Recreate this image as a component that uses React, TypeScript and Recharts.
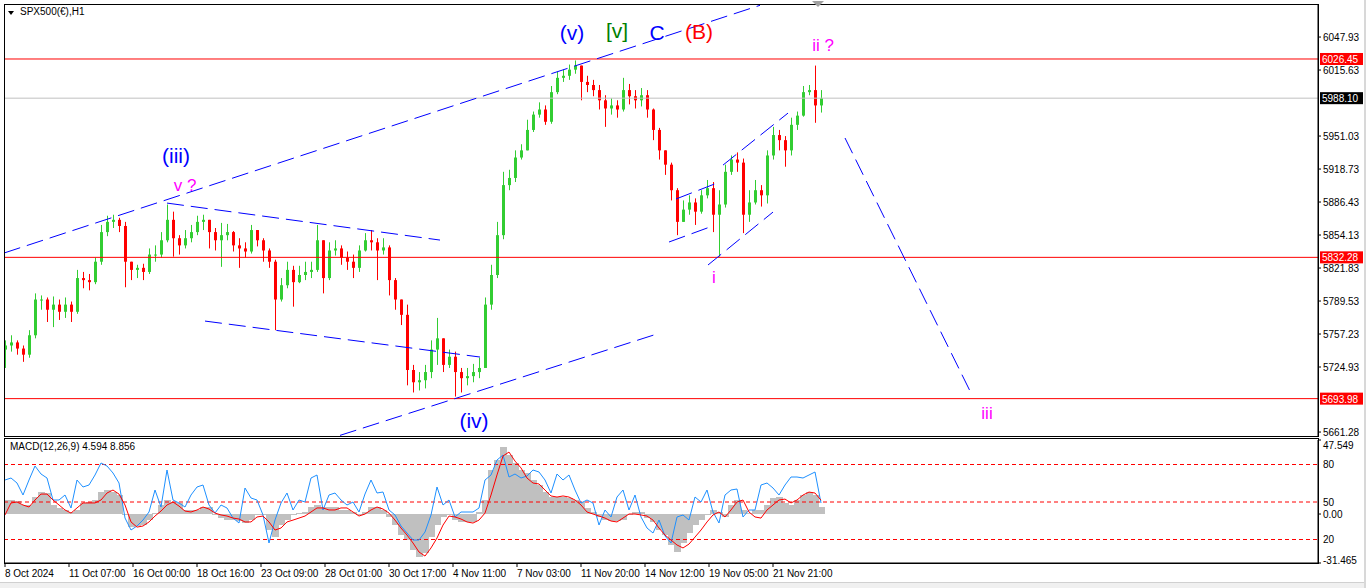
import React from 'react';
import {
  ComposedChart,
  Bar,
  Line,
  XAxis,
  YAxis,
  ReferenceLine,
  ReferenceDot,
} from 'recharts';

// SPX500 H1, one candle per 6 hourly bars
const firstOpen = 5742;
const closes = [
  5746, 5749, 5743, 5737, 5756, 5791, 5791, 5781, 5786, 5779,
  5786, 5779, 5812, 5810, 5808, 5828, 5857, 5867, 5869, 5863,
  5828, 5820, 5822, 5818, 5835, 5835, 5849, 5869, 5851, 5844,
  5851, 5857, 5867, 5869, 5857, 5849, 5854, 5857, 5844, 5841,
  5838, 5859, 5849, 5839, 5828, 5791, 5805, 5820, 5808, 5815,
  5818, 5820, 5849, 5812, 5839, 5841, 5832, 5828, 5822, 5839,
  5849, 5847, 5839, 5842, 5810, 5791, 5776, 5722, 5710, 5712,
  5720, 5742, 5753, 5727, 5735, 5720, 5714, 5716, 5720, 5724,
  5786, 5815, 5854, 5903, 5910, 5930, 5937, 5957, 5972, 5977,
  5965, 5994, 6008, 6010, 6016, 6020, 6004, 6001, 5996, 5986,
  5978, 5981, 5977, 5996, 5990, 5986, 5991, 5977, 5957, 5937,
  5923, 5898, 5867, 5879, 5886, 5877, 5893, 5900, 5874, 5884,
  5916, 5928, 5925, 5874, 5886, 5898, 5893, 5932, 5952, 5947,
  5937, 5962, 5971, 5994, 5996, 5981, 5988,
];
const highs = [
  5751, 5756, 5751, 5746, 5761, 5797, 5795, 5793, 5794, 5791,
  5793, 5789, 5820, 5818, 5816, 5832, 5864, 5873, 5874, 5871,
  5867, 5828, 5825, 5826, 5841, 5844, 5857, 5884, 5877, 5854,
  5859, 5864, 5873, 5874, 5869, 5861, 5866, 5865, 5858, 5851,
  5847, 5864, 5859, 5851, 5841, 5830, 5812, 5828, 5824, 5824,
  5828, 5828, 5864, 5849, 5847, 5849, 5844, 5838, 5835, 5844,
  5856, 5859, 5851, 5851, 5844, 5812, 5791, 5786, 5727, 5720,
  5727, 5751, 5773, 5753, 5742, 5740, 5724, 5724, 5728, 5734,
  5793, 5825, 5867, 5916, 5918, 5937, 5943, 5967, 5975, 5984,
  5981, 6000, 6014, 6016, 6021, 6025, 6020, 6010, 6006, 6001,
  5991, 5988, 5986, 6008, 6002, 5996, 5998, 5996, 5978, 5959,
  5937, 5925, 5900, 5888, 5893, 5890, 5898, 5908, 5906, 5898,
  5923, 5932, 5935, 5929, 5898, 5908, 5903, 5937, 5960, 5957,
  5951, 5969, 5975, 6000, 6001, 6020, 5996,
];
const lows = [
  5724, 5740, 5737, 5730, 5734, 5753, 5781, 5769, 5764, 5771,
  5773, 5769, 5777, 5802, 5800, 5806, 5825, 5853, 5861, 5857,
  5803, 5810, 5812, 5810, 5816, 5828, 5832, 5847, 5833, 5835,
  5841, 5847, 5854, 5859, 5841, 5839, 5823, 5849, 5838, 5822,
  5832, 5836, 5843, 5828, 5822, 5761, 5789, 5802, 5784, 5807,
  5810, 5812, 5818, 5797, 5810, 5834, 5825, 5820, 5812, 5818,
  5838, 5839, 5810, 5835, 5795, 5781, 5766, 5707, 5700, 5702,
  5704, 5714, 5727, 5720, 5724, 5696, 5700, 5707, 5710, 5714,
  5724, 5781, 5812, 5850, 5898, 5906, 5928, 5937, 5955, 5969,
  5962, 5963, 5992, 6004, 6006, 6012, 5986, 5994, 5990, 5977,
  5960, 5972, 5969, 5975, 5982, 5978, 5980, 5969, 5947, 5928,
  5913, 5888, 5854, 5867, 5874, 5864, 5875, 5890, 5857, 5833,
  5881, 5913, 5916, 5856, 5867, 5884, 5882, 5885, 5928, 5937,
  5921, 5932, 5957, 5970, 5991, 5964, 5974,
];

// MACD(12,26,9) panel
const macdMain = [
  9.0, 9.0, 8.4, 5.8, 5.8, 10.9, 14.1, 13.5, 5.8, 3.9,
  2.6, 1.3, 2.6, 7.1, 7.7, 9.0, 14.1, 15.4, 14.1, 12.2,
  -0.6, -8.4, -7.7, -7.1, -3.9, 0.6, 5.8, 9.0, 7.7, 7.1,
  2.6, 2.6, 2.6, 4.5, 4.5, -0.6, -2.6, -3.9, -3.9, -4.5,
  -5.8, -3.9, -0.6, -0.6, -10.3, -14.8, -7.1, -3.9, -0.6, 0.6,
  1.3, 4.5, 5.8, 4.5, 4.5, 4.5, 2.6, 2.6, 1.3, -0.6,
  1.3, 4.5, 4.5, 2.6, -1.9, -7.1, -13.5, -16.7, -23.1, -27.6,
  -25.1, -14.8, -7.1, -1.9, -0.6, -3.9, -5.1, -5.1, -5.1, 1.3,
  9.0, 28.3, 34.7, 43.0, 37.9, 32.8, 28.3, 26.3, 21.8, 18.6,
  14.1, 10.9, 10.9, 10.9, 10.3, 9.0, 7.7, 3.9, 1.3, -1.9,
  -3.9, -4.5, -4.5, -3.9, -0.6, 1.3, 1.3, -2.6, -5.1, -10.3,
  -13.5, -19.9, -24.4, -18.6, -12.2, -7.1, -3.9, -0.6, 2.6, 1.3,
  -1.9, 5.8, 9.0, 2.6, 0.6, 2.6, 2.6, 5.8, 10.3, 10.9,
  7.1, 5.8, 9.0, 12.2, 14.1, 12.2, 4.594,
];
const macdSignal = [
  -0.6, 7.1, 7.7, 5.8, 4.5, 9.0, 12.8, 12.8, 9.0, 5.8,
  2.6, 0.6, 3.9, 7.1, 7.1, 7.1, 9.0, 13.5, 15.4, 12.8,
  5.8, -5.1, -8.4, -7.7, -5.1, -1.3, 1.9, 5.8, 7.7, 5.1,
  1.9, 1.3, 2.6, 4.5, 3.2, 0.6, -0.6, -1.3, -2.6, -3.2,
  -5.1, -5.1, -1.9, -1.3, -5.1, -10.3, -9.0, -5.1, -3.9, -2.6,
  -1.3, 1.3, 3.9, 3.9, 2.6, 2.6, 3.9, 3.9, 1.3, -1.3,
  0, 2.6, 4.5, 3.2, 0.6, -3.9, -9.0, -13.5, -18.6, -24.4,
  -27.0, -21.8, -15.4, -7.1, -1.3, -1.9, -3.2, -5.1, -5.8, -3.9,
  0.6, 12.2, 25.1, 37.3, 39.8, 34.0, 29.6, 23.1, 19.9, 19.3,
  15.4, 11.6, 10.9, 11.6, 10.9, 9.0, 5.8, 1.3, 0, -1.3,
  -2.6, -4.5, -5.1, -2.6, 0, 0, -0.6, -1.3, -3.9, -9.0,
  -13.5, -16.7, -19.9, -21.8, -19.3, -14.8, -10.3, -5.1, -0.6, 1.3,
  -1.9, 2.6, 7.7, 9.0, 1.3, -1.9, -2.6, 2.6, 5.8, 9.0,
  9.6, 7.1, 9.0, 12.2, 14.1, 13.5, 8.856,
];
// blue oscillator drawn on a 0..100 scale (levels 20/50/80)
const oscillator = [
  67.6, 69.2, 65.2, 55.6, 67.6, 78.8, 72.4, 69.2, 51.6, 51.6,
  55.6, 45.2, 67.6, 62.0, 63.6, 71.6, 81.2, 78.8, 73.2, 65.2,
  37.2, 27.6, 30.8, 35.6, 42.0, 59.6, 46.0, 75.6, 51.6, 49.2,
  46.0, 55.6, 62.0, 63.6, 47.6, 41.2, 47.6, 45.2, 37.2, 33.2,
  61.2, 53.2, 51.6, 39.6, 17.2, 35.6, 49.2, 57.2, 43.6, 51.6,
  50.0, 69.2, 71.6, 43.6, 55.6, 57.2, 51.6, 47.6, 50.0, 42.0,
  56.4, 67.6, 57.2, 58.0, 43.6, 39.6, 30.8, 25.2, 19.6, 19.6,
  26.0, 39.6, 62.0, 47.6, 51.6, 38.0, 42.0, 42.0, 42.0, 45.2,
  67.6, 71.6, 83.6, 87.6, 70.0, 72.4, 69.2, 70.8, 75.6, 74.0,
  67.6, 57.2, 72.4, 67.6, 71.6, 59.6, 49.2, 51.6, 49.2, 31.6,
  43.6, 38.0, 54.0, 59.6, 43.6, 55.6, 38.0, 29.2, 25.2, 35.6,
  22.8, 17.2, 38.0, 39.6, 35.6, 54.0, 50.0, 59.6, 42.0, 33.2,
  55.6, 59.6, 60.4, 38.0, 43.6, 43.6, 63.6, 65.2, 61.2, 55.6,
  63.6, 70.0, 70.0, 69.2, 71.6, 74.0, 49.2,
];

const timeLabels = [
  '8 Oct 2024', '11 Oct 07:00', '16 Oct 00:00', '18 Oct 16:00', '23 Oct 09:00',
  '28 Oct 01:00', '30 Oct 17:00', '4 Nov 11:00', '7 Nov 03:00', '11 Nov 20:00',
  '14 Nov 12:00', '19 Nov 05:00', '21 Nov 21:00',
];
const priceTicks = [
  6047.93, 6015.63, 5951.03, 5918.73, 5886.43, 5854.13,
  5821.83, 5789.53, 5757.23, 5724.93, 5661.28,
];
const macdTicks = [47.549, 0, -31.465];
const oscLevels = [80, 50, 20];
const redLevels = [6026.45, 5832.28, 5693.98];
const bidPrice = 5988.1;

// trend lines: [bar1, price1, bar2, price2]
const trendLines = [
  [0, 5836.5, 756, 6079],
  [336, 5658, 656, 5758.2],
  [163, 5885.4, 436, 5849.2],
  [201, 5769.9, 476, 5734.7],
  [665, 5847.3, 706, 5862.0],
  [672, 5889.4, 713, 5905.0],
  [704, 5824.8, 769, 5876.6],
  [719, 5922.6, 784, 5973.5],
  [841, 5949.1, 968, 5697.5],
];

// wave labels: [text, bar, price, color, size]
const waveLabels: [string, number, number, string, number][] = [
  ['(v)', 568, 6052.8, '#0000ff', 21],
  ['[v]', 613, 6054.8, '#008000', 21],
  ['C', 653, 6052.8, '#0000ff', 21],
  ['(B)', 695, 6053.8, '#ff0000', 21],
  ['ii ?', 819, 6040.1, '#ff00ff', 17],
  ['(iii)', 172, 5932.4, '#0000ff', 21],
  ['v ?', 181, 5903.1, '#ff00ff', 17],
  ['(iv)', 470, 5672.1, '#0000ff', 21],
  ['i', 710, 5813.0, '#ff00ff', 17],
  ['iii', 983, 5679.9, '#ff00ff', 17],
];

const STEP = 6;
const FONT = 'Arial, "Liberation Sans", sans-serif';

const candles = closes.map((close, i) => {
  const open = i === 0 ? firstOpen : closes[i - 1];
  return { bar: 1 + i * STEP, open, close, high: highs[i], low: lows[i], range: [lows[i], highs[i]] };
});

const macdRows = macdMain.map((m, i) => ({
  bar: 1 + i * STEP,
  hist: m,
  signal: macdSignal[i],
  osc: oscillator[i],
}));

const tickBars = timeLabels.map((_, k) => 1 + k * 64);

const Candle = (props: any) => {
  const { x, y, width, height, payload } = props;
  if (x == null || !payload) return null;
  const { open, close, high, low } = payload;
  const top = Math.min(y, y + height);
  const h = Math.abs(height);
  const span = high - low || 1;
  const py = (p: number) => top + ((high - p) / span) * h;
  const color = close >= open ? '#32cd32' : '#ff0000';
  const cx = Math.round(x + width / 2) + 0.5;
  const bTop = py(Math.max(open, close));
  const bBot = py(Math.min(open, close));
  return (
    <g>
      <line x1={cx} x2={cx} y1={top} y2={top + h} stroke={color} strokeWidth={1} />
      <rect x={cx - 1.5} y={bTop} width={3} height={Math.max(1, bBot - bTop)} fill={color} />
    </g>
  );
};

// histogram column a bit wider than the step so the gray reads as a solid area
const HistColumn = (props: any) => {
  const { x, y, width, height } = props;
  if (x == null || height == null) return null;
  const cx = Math.round(x + width / 2);
  const top = Math.min(y, y + height);
  return (
    <rect x={cx - 3} y={top} width={STEP + 1} height={Math.max(1, Math.abs(height))}
      fill="#c0c0c0" stroke="none" shapeRendering="crispEdges" />
  );
};

const PriceTag = (props: any) => {
  const { viewBox, bg, text } = props;
  if (!viewBox) return null;
  const right = viewBox.x + viewBox.width;
  const y = viewBox.y;
  return (
    <g>
      <rect x={right + 2} y={y - 6} width={43} height={12} fill={bg} />
      <text x={right + 4} y={y + 4} fill="#fff" fontSize={10} fontFamily={FONT}>
        {text}
      </text>
    </g>
  );
};

const WaveText = (props: any) => {
  const { viewBox, text, color, size } = props;
  if (!viewBox) return null;
  const cx = viewBox.x + (viewBox.width || 0) / 2;
  const cy = viewBox.y + (viewBox.height || 0) / 2;
  return (
    <text x={cx} y={cy} textAnchor="middle" dominantBaseline="central" fill={color} fontSize={size} fontFamily={FONT}>
      {text}
    </text>
  );
};

const TimeTick = (props: any) => {
  const { x, y, payload } = props;
  const k = Math.round((payload.value - 1) / 64);
  return (
    <text x={x} y={y} dy={8} textAnchor="start" fontSize={10} fontFamily={FONT} fill="#000">
      {timeLabels[k]}
    </text>
  );
};

// MT4 keeps the panel's top and bottom values inside the panel
const MacdTick = (props: any) => {
  const { x, y, payload } = props;
  const v = payload.value;
  const dy = v > 40 ? 5 : v < -30 ? -3 : 0;
  const txt = v === 0 ? '0.00' : String(v);
  return (
    <text x={x} y={y + dy} dy={4} textAnchor="start" fontSize={10} fontFamily={FONT} fill="#000">
      {txt}
    </text>
  );
};

export default function App() {
  return (
    <div style={{ position: 'absolute', left: 0, top: 0, width: 1366, height: 588, background: '#fff', fontFamily: FONT, overflow: 'hidden' }}>
      <div style={{ position: 'absolute', left: 0, top: 0 }}>
        <ComposedChart width={1366} height={438} data={candles} margin={{ top: 5, right: 0, bottom: 2, left: 4 }}>
          <XAxis type="number" dataKey="bar" domain={[0, 1314]} allowDataOverflow hide />
          <YAxis
            orientation="right"
            domain={[5657.4, 6079.3]}
            allowDataOverflow
            ticks={priceTicks}
            interval={0}
            width={48}
            tickSize={3}
            axisLine={{ stroke: '#000' }}
            tickLine={{ stroke: '#000' }}
            tick={{ fontSize: 10, fill: '#000', fontFamily: FONT }}
            tickFormatter={(v: number) => v.toFixed(2)}
          />
          {redLevels.map((p) => (
            <ReferenceLine key={p} y={p} stroke="#ff0000" strokeWidth={1} ifOverflow="visible"
              label={<PriceTag bg="#ff0000" text={p.toFixed(2)} />} />
          ))}
          <ReferenceLine y={bidPrice} stroke="#c0c0c0" strokeWidth={1} ifOverflow="visible"
            label={<PriceTag bg="#000000" text={bidPrice.toFixed(2)} />} />
          <Bar dataKey="range" barSize={4} shape={<Candle />} isAnimationActive={false} />
          {trendLines.map((s, i) => (
            <ReferenceLine key={'t' + i} segment={[{ x: s[0], y: s[1] }, { x: s[2], y: s[3] }]}
              stroke="#0000ff" strokeWidth={1} strokeDasharray="17 7" ifOverflow="visible" />
          ))}
          {waveLabels.map(([t, b, p, c, s]) => (
            <ReferenceDot key={t + b} x={b} y={p} r={0} fill="none" stroke="none" ifOverflow="visible"
              label={<WaveText text={t} color={c} size={s} />} />
          ))}
        </ComposedChart>
      </div>

      <div style={{ position: 'absolute', left: 0, top: 438 }}>
        <ComposedChart width={1366} height={144} data={macdRows} margin={{ top: 2, right: 0, bottom: 0, left: 4 }} barGap={0} barCategoryGap={0}>
          <XAxis
            type="number"
            dataKey="bar"
            domain={[0, 1314]}
            allowDataOverflow
            ticks={tickBars}
            interval={0}
            height={19}
            tickSize={4}
            axisLine={{ stroke: '#000' }}
            tickLine={{ stroke: '#000' }}
            tick={<TimeTick />}
          />
          <YAxis
            yAxisId="m"
            orientation="right"
            domain={[-31.465, 47.549]}
            allowDataOverflow
            ticks={macdTicks}
            interval={0}
            width={48}
            tickSize={3}
            axisLine={{ stroke: '#000' }}
            tickLine={{ stroke: '#000' }}
            tick={<MacdTick />}
          />
          <YAxis yAxisId="b" hide domain={[1.2, 99.6]} allowDataOverflow />
          <Bar yAxisId="m" dataKey="hist" fill="#c0c0c0" barSize={6} shape={<HistColumn />} isAnimationActive={false} />
          {oscLevels.map((v) => (
            <ReferenceLine key={v} yAxisId="b" y={v} stroke="#ff0000" strokeDasharray="4 3" ifOverflow="visible"
              label={{ value: String(v), position: 'right', fill: '#000', fontSize: 10, fontFamily: FONT }} />
          ))}
          <Line yAxisId="b" type="linear" dataKey="osc" stroke="#1e90ff" strokeWidth={1} dot={false} isAnimationActive={false} />
          <Line yAxisId="m" type="linear" dataKey="signal" stroke="#ff0000" strokeWidth={1} dot={false} isAnimationActive={false} />
        </ComposedChart>
      </div>

      {/* panel frames */}
      <div style={{ position: 'absolute', left: 4, top: 4, width: 1315, height: 433, border: '1px solid #000', boxSizing: 'border-box', pointerEvents: 'none' }} />
      <div style={{ position: 'absolute', left: 4, top: 438, width: 1315, height: 126, border: '1px solid #000', boxSizing: 'border-box', pointerEvents: 'none' }} />

      {/* symbol caption */}
      <div style={{ position: 'absolute', left: 8, top: 11, width: 0, height: 0, borderLeft: '3px solid transparent', borderRight: '3px solid transparent', borderTop: '4px solid #000' }} />
      <div style={{ position: 'absolute', left: 20, top: 6, fontSize: 10, color: '#000', whiteSpace: 'nowrap' }}>SPX500(€),H1</div>
      <div style={{ position: 'absolute', left: 10, top: 441, fontSize: 10, color: '#000', whiteSpace: 'nowrap' }}>MACD(12,26,9) 4.594 8.856</div>

      {/* chart shift marker */}
      <div style={{ position: 'absolute', left: 812, top: 1, width: 0, height: 0, borderLeft: '6px solid transparent', borderRight: '6px solid transparent', borderTop: '6px solid #a0a0a0' }} />

      {/* window edges */}
      <div style={{ position: 'absolute', left: 0, top: 582, width: 1366, height: 6, background: '#f0f0f0', borderTop: '1px solid #d0d0d0' }} />
      <div style={{ position: 'absolute', left: 1364, top: 0, width: 2, height: 588, background: '#d8d8d8' }} />
    </div>
  );
}
